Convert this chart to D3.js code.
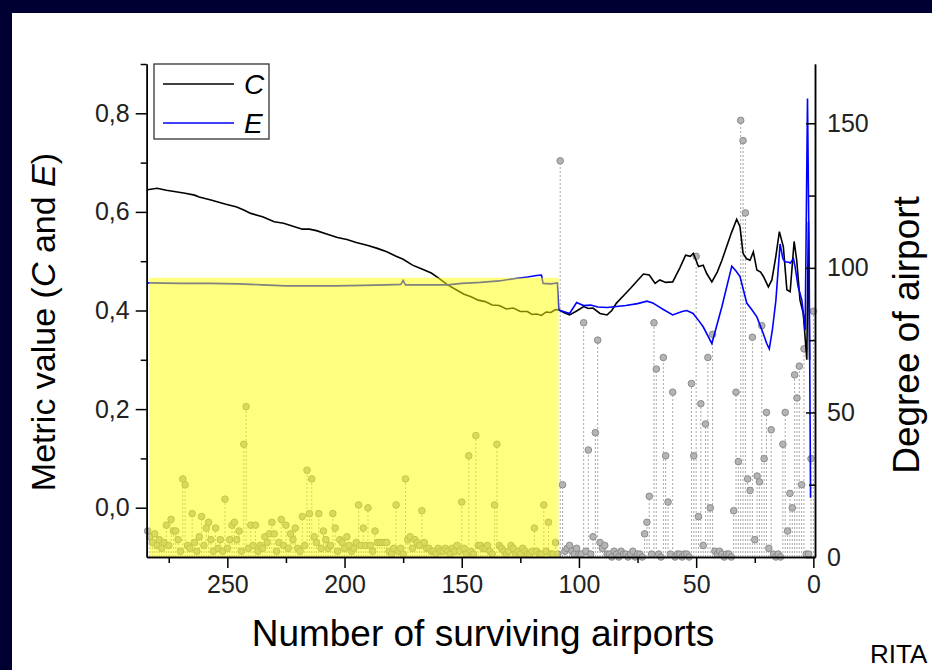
<!DOCTYPE html>
<html>
<head>
<meta charset="utf-8">
<script src="https://cdn.jsdelivr.net/npm/d3@7"></script>
<style>
  html, body { margin: 0; padding: 0; background: #000033; overflow: hidden; }
  svg { display: block; }
  text { font-family: "Liberation Sans", Arial, sans-serif; }
</style>
</head>
<body>
<div id="chart"></div>
<script>
// ---- data ----
// C metric (black line): number of surviving airports -> value
var cN = [284, 280, 276, 272, 268, 264, 262, 257, 251, 246, 243, 240, 235, 230, 226, 222, 218, 215, 212, 207,
          203, 199, 195, 190, 186, 182, 178, 175, 171, 167, 163, 160, 156, 152, 149, 146, 143, 140, 137, 134,
          131, 128, 125, 122, 120, 118, 116, 114, 112, 110, 108.5, 106, 104, 101, 98, 96, 94, 91, 88, 86,
          84, 81, 78, 75, 72.5, 70, 67.5, 65.5, 63, 60, 57, 54.5, 52.5, 51.2, 49, 47, 45.5, 43.3, 41, 39,
          35, 32.7, 31.3, 30, 28.5, 27, 25.6, 24.1, 22.5, 21.3, 19.2, 17.7, 16, 14.5, 12.8, 11.3, 9.9, 8.2, 7.1, 5.7,
          4.3, 2.8, 2.1, 1.6];
var cVal = [0.645, 0.648, 0.644, 0.641, 0.638, 0.634, 0.630, 0.624, 0.616, 0.610, 0.604, 0.597, 0.590, 0.580, 0.577, 0.571, 0.565, 0.565, 0.562, 0.554,
            0.548, 0.544, 0.538, 0.532, 0.526, 0.519, 0.510, 0.504, 0.492, 0.484, 0.476, 0.466, 0.452, 0.441, 0.433, 0.428, 0.421, 0.418, 0.411, 0.410,
            0.403, 0.405, 0.398, 0.398, 0.392, 0.393, 0.390, 0.397, 0.396, 0.402, 0.401, 0.395, 0.391, 0.399, 0.408, 0.404, 0.405, 0.394, 0.391, 0.400,
            0.415, 0.430, 0.445, 0.461, 0.474, 0.472, 0.455, 0.462, 0.457, 0.458, 0.486, 0.512, 0.510, 0.516, 0.489, 0.492, 0.475, 0.458, 0.478, 0.502,
            0.557, 0.585, 0.570, 0.516, 0.505, 0.502, 0.519, 0.482, 0.478, 0.469, 0.448, 0.462, 0.510, 0.560, 0.529, 0.442, 0.438, 0.540, 0.502, 0.421,
            0.394, 0.300, 0.580, 0.300];

// E metric (blue line)
var eN = [284, 270, 258, 245, 235, 225, 214, 204, 192, 182, 176, 175, 174, 165, 156, 150, 142, 134, 127, 122,
          118, 116, 115.3, 112, 109.2, 108.6, 104, 101, 98, 95, 92, 88, 84, 80, 75, 71, 68.5, 67, 64, 60,
          56, 54, 51.3, 49, 47, 43.3, 39, 34.8, 33, 31.3, 28.4, 26, 24.1, 21.5, 19.9, 18.8, 17.5, 16, 14.2, 13,
          12.1, 10.5, 9.9, 8.5, 7.8, 6.5, 4.9, 3.5, 2.5, 1.8, 1.2];
var eVal = [0.456, 0.455, 0.455, 0.454, 0.452, 0.450, 0.450, 0.450, 0.451, 0.452, 0.453, 0.461, 0.452, 0.452, 0.452, 0.455, 0.457, 0.460, 0.465, 0.468,
            0.471, 0.472, 0.455, 0.454, 0.456, 0.401, 0.394, 0.416, 0.410, 0.411, 0.407, 0.406, 0.408, 0.410, 0.414, 0.419, 0.415, 0.411, 0.402, 0.391,
            0.398, 0.400, 0.394, 0.380, 0.367, 0.333, 0.408, 0.490, 0.480, 0.469, 0.415, 0.400, 0.387, 0.355, 0.333, 0.322, 0.360, 0.420, 0.535, 0.505,
            0.499, 0.498, 0.496, 0.505, 0.489, 0.448, 0.421, 0.360, 0.830, 0.500, 0.020];

// degree of the removed airport, one per step; first entry is n = 284, last is n = 0
var degStart = 284;
var degree = [
  9, 7, 5, 8, 4, 6, 3, 5, 11, 4,
  13, 9, 9, 6, 2, 27, 25, 4, 3, 15,
  5, 2, 7, 14, 4, 10, 12, 6, 2, 10,
  3, 6, 2, 20, 3, 6, 11, 12, 6, 9,
  2, 39, 52, 3, 11, 4, 11, 2, 4, 3,
  7, 5, 8, 12, 8, 2, 5, 13, 4, 11,
  3, 8, 6, 10, 3, 2, 14, 4, 30, 15,
  27, 7, 5, 15, 3, 9, 6, 3, 4, 15,
  10, 2, 6, 5, 3, 7, 4, 2, 3, 5,
  18, 4, 10, 4, 17, 4, 2, 9, 5, 5,
  5, 5, 5, 2, 1, 3, 18, 2, 3, 1,
  27, 6, 7, 3, 6, 5, 4, 16, 5, 3,
  3, 2, 2, 1, 3, 2, 2, 3, 2, 1,
  3, 2, 4, 2, 19, 3, 1, 35, 2, 1,
  42, 4, 4, 3, 3, 4, 2, 1, 18, 39,
  4, 3, 2, 1, 2, 4, 3, 1, 2, 1,
  3, 2, 1, 1, 2, 10, 2, 1, 1, 18,
  2, 12, 1, 1, 5, 1, 137, 25, 2, 3,
  4, 2, 1, 3, 1, 1, 81, 2, 37, 1,
  7, 43, 75, 5, 3, 4, 1, 1, 0, 2,
  1, 0, 2, 1, 1, 0, 1, 2, 0, 1,
  1, 0, 8, 12, 21, 1, 81, 65, 1, 0,
  69, 35, 19, 1, 57, 0, 1, 1, 0, 1,
  1, 0, 60, 35, 104, 14, 53, 4, 46, 69,
  17, 77, 2, 1, 2, 1, 0, 1, 1, 0,
  16, 57, 33, 151, 144, 119, 27, 23, 76, 6,
  28, 26, 80, 34, 50, 3, 44, 1, 0, 1,
  0, 39, 50, 9, 22, 17, 63, 55, 66, 25,
  72, 1, 1, 34, 85
];

// highlighted (yellow) range
var highlightN = [283.3, 108.7];
var highlightTop = 0.4665;

var xTicks = [250, 200, 150, 100, 50, 0];
var xMinor = [275, 225, 175, 125, 75, 25];
var leftTicks = [0, 0.2, 0.4, 0.6, 0.8];
var leftMinor = [0.1, 0.3, 0.5, 0.7, 0.9];
var rightTicks = [0, 50, 100, 150];
var rightMinor = [25, 75, 125];

// ---- layout ----
var width = 932, height = 670;

var svg = d3.select("#chart").append("svg")
    .attr("width", width)
    .attr("height", height);

// white slide panel
svg.append("rect")
    .attr("x", 12).attr("y", 13)
    .attr("width", width - 12).attr("height", height - 13)
    .attr("fill", "#ffffff");

var x = d3.scaleLinear().domain([284.4, -0.7]).range([146.7, 815]);
var yL = d3.scaleLinear().domain([-0.1, 0.9]).range([557, 64]);
var yR = d3.scaleLinear().domain([0, 170.5]).range([557, 64]);

var degData = degree.map(function(d, i) { return { n: degStart - i, d: d }; });

// dotted stems
svg.append("g").selectAll("line")
    .data(degData)
    .enter()
    .append("line")
    .attr("x1", d => x(d.n)).attr("x2", d => x(d.n))
    .attr("y1", yR(0)).attr("y2", d => yR(d.d))
    .attr("stroke", "#a8a8a8")
    .attr("stroke-width", 1)
    .attr("stroke-dasharray", "2,2");

// degree markers
svg.append("g").selectAll("circle")
    .data(degData)
    .enter()
    .append("circle")
    .attr("cx", d => x(d.n))
    .attr("cy", d => yR(d.d))
    .attr("r", 3.3)
    .attr("fill", "#b4b4b4")
    .attr("stroke", "#8c8c8c")
    .attr("stroke-width", 1);

// metric lines
var lineC = d3.line().x((d, i) => x(cN[i])).y(d => yL(d));
var lineE = d3.line().x((d, i) => x(eN[i])).y(d => yL(d));

svg.append("path")
    .attr("d", lineC(cVal))
    .attr("fill", "none")
    .attr("stroke", "#000000")
    .attr("stroke-width", 1.6);

svg.append("path")
    .attr("d", lineE(eVal))
    .attr("fill", "none")
    .attr("stroke", "#0000ff")
    .attr("stroke-width", 1.6);

// yellow highlight laid over everything in its range
svg.append("rect")
    .attr("x", x(highlightN[0]))
    .attr("y", yL(highlightTop))
    .attr("width", x(highlightN[1]) - x(highlightN[0]))
    .attr("height", yL(-0.1) - yL(highlightTop))
    .attr("fill", "#ffff00")
    .attr("opacity", 0.5);

// ---- axes ----
var fmt = d => d3.format(".1f")(d).replace(".", ",");

function styleAxis(g) {
    g.selectAll("path, line").attr("stroke", "#000").attr("stroke-width", 1.5);
    g.selectAll("text").attr("fill", "#222").style("font-size", "25px")
        .style("font-family", "'Liberation Sans', Arial, sans-serif");
}

svg.append("g")
    .attr("transform", "translate(" + x.range()[0] + ",0)")
    .call(d3.axisLeft(yL).tickValues(leftMinor).tickSize(6).tickFormat("").tickSizeOuter(0))
    .call(styleAxis);
svg.append("g")
    .attr("transform", "translate(" + x.range()[0] + ",0)")
    .call(d3.axisLeft(yL).tickValues(leftTicks).tickSize(11).tickPadding(6).tickFormat(fmt).tickSizeOuter(0))
    .call(styleAxis);

svg.append("g")
    .attr("transform", "translate(" + x.range()[1] + ",0)")
    .call(d3.axisRight(yR).tickValues(rightMinor).tickSizeInner(-6).tickSizeOuter(0).tickFormat(""))
    .call(styleAxis);
svg.append("g")
    .attr("transform", "translate(" + x.range()[1] + ",0)")
    .call(d3.axisRight(yR).tickValues(rightTicks).tickSizeInner(-9).tickSizeOuter(0).tickPadding(12))
    .call(styleAxis);

svg.append("g")
    .attr("transform", "translate(0," + yL.range()[0] + ")")
    .call(d3.axisBottom(x).tickValues(xMinor).tickSize(6).tickFormat("").tickSizeOuter(0))
    .call(styleAxis);
svg.append("g")
    .attr("transform", "translate(0," + yL.range()[0] + ")")
    .call(d3.axisBottom(x).tickValues(xTicks).tickSize(11).tickPadding(7).tickSizeOuter(0))
    .call(styleAxis);

// ---- axis titles ----
var leftTitle = svg.append("text")
    .attr("transform", "translate(55,322) rotate(-90)")
    .attr("text-anchor", "middle")
    .style("font-size", "34px")
    .attr("fill", "#000");
leftTitle.append("tspan").text("Metric value (");
leftTitle.append("tspan").style("font-style", "italic").text("C");
leftTitle.append("tspan").text(" and ");
leftTitle.append("tspan").style("font-style", "italic").text("E");
leftTitle.append("tspan").text(")");

svg.append("text")
    .attr("x", 483).attr("y", 646)
    .attr("text-anchor", "middle")
    .style("font-size", "37px")
    .attr("fill", "#000")
    .text("Number of surviving airports");

svg.append("text")
    .attr("transform", "translate(919,335) rotate(-90)")
    .attr("text-anchor", "middle")
    .style("font-size", "37px")
    .attr("fill", "#000")
    .text("Degree of airport");

// slide footer text at the lower right corner
svg.append("text")
    .attr("x", 870).attr("y", 663)
    .style("font-size", "26px")
    .attr("fill", "#000")
    .text("RITA");

// ---- legend ----
var legend = svg.append("g");
legend.append("rect")
    .attr("x", 154).attr("y", 64)
    .attr("width", 115).attr("height", 75)
    .attr("fill", "#fff")
    .attr("stroke", "#333")
    .attr("stroke-width", 1.3);
var legendItems = [{ name: "C", color: "#000000", y: 84 }, { name: "E", color: "#0000ff", y: 123 }];
legendItems.forEach(function(it) {
    legend.append("line")
        .attr("x1", 163).attr("x2", 234)
        .attr("y1", it.y).attr("y2", it.y)
        .attr("stroke", it.color)
        .attr("stroke-width", 1.6);
    legend.append("text")
        .attr("x", 244).attr("y", it.y + 10)
        .style("font-size", "28px")
        .style("font-style", "italic")
        .attr("fill", "#000")
        .text(it.name);
});
</script>
</body>
</html>
